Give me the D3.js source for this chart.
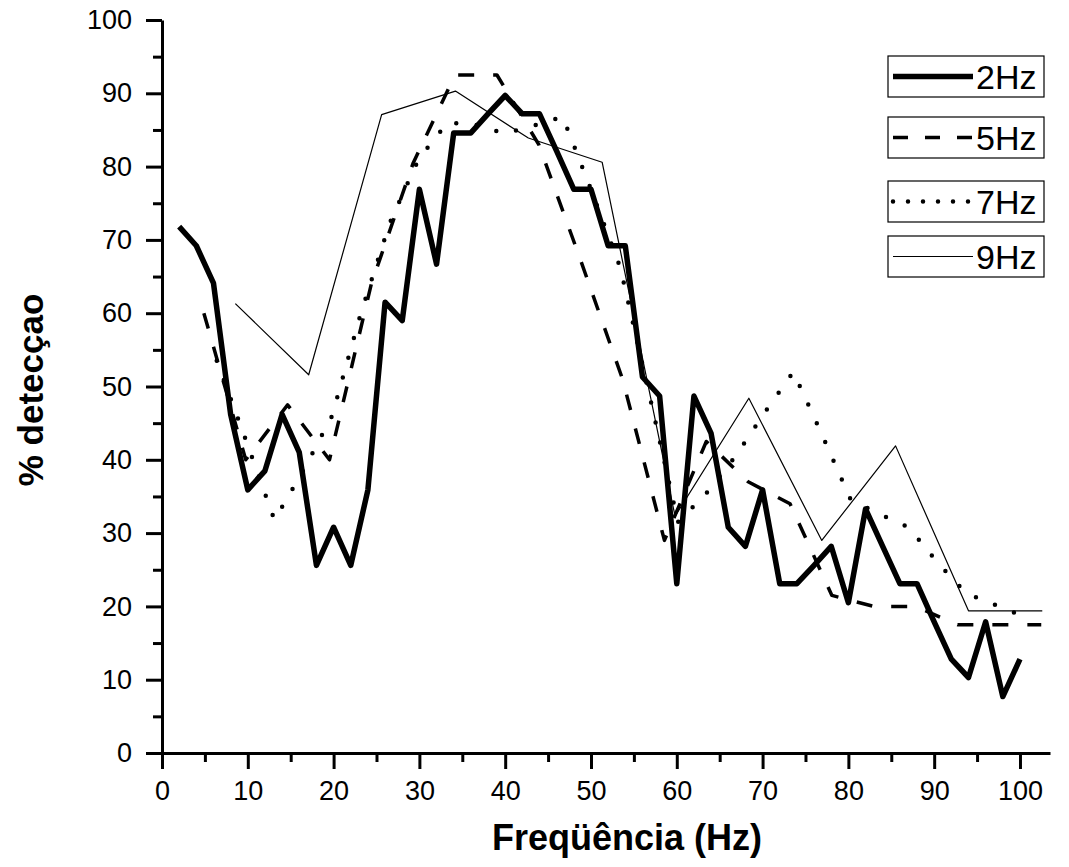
<!DOCTYPE html>
<html>
<head>
<meta charset="utf-8">
<title>% detecçao x Freqüência</title>
<script src="https://cdn.jsdelivr.net/npm/d3@7/dist/d3.min.js"></script>
<style>
  body { margin: 0; background: #fff; }
  text { font-family: Arial, "Liberation Sans", sans-serif; fill: #000; }
</style>
</head>
<body>
<script>

// data: frequency (Hz) and % detection per series
let freq2 = [2, 4, 6, 8, 10, 12, 14, 16, 18, 20, 22, 24, 26, 28, 30, 32, 34, 36, 38, 40,
             42, 44, 46, 48, 50, 52, 54, 56, 58, 60, 62, 64, 66, 68, 70, 72, 74, 76, 78, 80,
             82, 84, 86, 88, 90, 92, 94, 96, 98, 100];
let det2 = [71.8, 69.2, 64.1, 46.2, 35.9, 38.5, 46.2, 41.0, 25.6, 30.8, 25.6, 35.9, 61.5, 59.0, 76.9, 66.7, 84.6, 84.6, 87.2, 89.7,
            87.2, 87.2, 82.1, 76.9, 76.9, 69.2, 69.2, 51.3, 48.7, 23.1, 48.7, 43.6, 30.8, 28.2, 35.9, 23.1, 23.1, 25.6, 28.2, 20.5,
            33.3, 28.2, 23.1, 23.1, 17.9, 12.8, 10.3, 17.9, 7.7, 12.8];

let freq5 = [4.88, 9.76, 14.64, 19.52, 24.4, 29.28, 34.16, 39.04, 43.92, 48.8, 53.68,
             58.56, 63.44, 68.32, 73.2, 78.08, 82.96, 87.84, 92.72, 97.6, 102.48];
let det5 = [60, 40, 47.5, 40, 64, 80.5, 92.5, 92.5, 83, 67.2, 51,
            29, 42.5, 37, 34, 21.5, 20, 20, 17.5, 17.5, 17.5];

let freq7 = [6.38, 9.74, 13.1, 16.46, 19.82, 23.18, 26.54, 29.9, 33.26, 36.62, 39.98, 43.34, 46.7, 50.06, 53.42,
             56.78, 60.14, 63.5, 66.86, 70.22, 73.58, 76.94, 80.3, 83.66, 87.02, 90.38, 93.74, 97.1, 100.46];
let det7 = [53.5, 42.8, 31.8, 38.5, 46, 60, 72.3, 81, 86, 85.7, 84.5, 85.6, 86.8, 76.7, 66.2,
            49, 31.5, 35.5, 40.5, 46.4, 52, 43.4, 34.5, 32.6, 30.8, 26, 21.8, 20.2, 18.6];

let freq9 = [8.55, 17.1, 25.6, 34.2, 42.7, 51.3, 59.8, 68.4, 76.9, 85.5, 94.0, 102.6];
let det9 = [61.3, 51.6, 87.1, 90.3, 83.9, 80.6, 32.3, 48.4, 29.0, 41.9, 19.4, 19.4];

let names = ['2Hz', '5Hz', '7Hz', '9Hz'];

// ticks
let xMajor = [0, 10, 20, 30, 40, 50, 60, 70, 80, 90, 100];
let xMinor = [5, 15, 25, 35, 45, 55, 65, 75, 85, 95];
let yMajor = [0, 10, 20, 30, 40, 50, 60, 70, 80, 90, 100];
let yMinor = [5, 15, 25, 35, 45, 55, 65, 75, 85, 95];

window.onload = function() {
  draw();
};

function draw() {

  let w = 1069, h = 867;

  let svg = d3.select('body')
     .append('svg')
     .attr('width', w)
     .attr('height', h);

  // scales
  let x = d3.scaleLinear()
     .domain([0, 103.5])
     .range([162, 1050]);
  let y = d3.scaleLinear()
     .domain([0, 100])
     .range([753, 20]);

  // line styles, one per series
  let series = [
    {x: freq2, y: det2, width: 5.5, dash: null, cap: 'butt'},
    {x: freq5, y: det5, width: 3.5, dash: '16,19', cap: 'butt'},
    {x: freq7, y: det7, width: 4.5, dash: '0,20.5', cap: 'round'},
    {x: freq9, y: det9, width: 1.2, dash: null, cap: 'butt'}
  ];

  let line = d3.line()
     .x(function(d) { return x(d[0]); })
     .y(function(d) { return y(d[1]); });

  // draw thin ones first so the thick line sits on top
  let order = [3, 2, 1, 0];
  order.forEach(function(i) {
    let s = series[i];
    svg.append('path')
       .datum(d3.zip(s.x, s.y))
       .attr('d', line)
       .attr('fill', 'none')
       .attr('stroke', '#000')
       .attr('stroke-width', s.width)
       .attr('stroke-linejoin', 'round')
       .attr('stroke-linecap', s.cap)
       .attr('stroke-dasharray', s.dash);
  });

  // x axis
  svg.append('g')
     .attr('transform', 'translate(0,753)')
     .call(d3.axisBottom(x)
       .tickValues(xMajor)
       .tickSize(16)
       .tickSizeOuter(0)
       .tickPadding(12)
       .tickFormat(d3.format('d')));

  svg.append('g')
     .attr('transform', 'translate(0,753)')
     .call(d3.axisBottom(x)
       .tickValues(xMinor)
       .tickSize(9)
       .tickFormat(''))
     .select('.domain').remove();

  // y axis
  svg.append('g')
     .attr('transform', 'translate(162,0)')
     .call(d3.axisLeft(y)
       .tickValues(yMajor)
       .tickSize(16)
       .tickSizeOuter(0)
       .tickPadding(14)
       .tickFormat(d3.format('d')));

  svg.append('g')
     .attr('transform', 'translate(162,0)')
     .call(d3.axisLeft(y)
       .tickValues(yMinor)
       .tickSize(9)
       .tickFormat(''))
     .select('.domain').remove();

  svg.selectAll('.domain')
     .attr('stroke', '#000')
     .attr('stroke-width', 3);
  svg.selectAll('.tick line')
     .attr('stroke', '#000')
     .attr('stroke-width', 3);
  svg.selectAll('.tick text')
     .attr('font-family', 'Arial, "Liberation Sans", sans-serif')
     .attr('font-size', 27);

  // axis titles
  svg.append('text')
     .attr('x', 627)
     .attr('y', 850)
     .attr('text-anchor', 'middle')
     .attr('font-size', 36)
     .attr('font-weight', 'bold')
     .text('Freqüência (Hz)');

  svg.append('text')
     .attr('transform', 'translate(43,390)rotate(-90)')
     .attr('text-anchor', 'middle')
     .attr('font-size', 35)
     .attr('font-weight', 'bold')
     .text('% detecçao');

  legend(svg, series);
}

// one framed box per series, stacked on the top right
function legend(svg, series) {

  let boxTop = [56, 117, 181, 236];
  let boxLeft = 888, boxW = 156, boxH = 41;
  let dashLegend = [null, '15,17', '0,15', null];

  series.forEach(function(s, i) {
    let g = svg.append('g')
       .attr('transform', 'translate(' + boxLeft + ',' + boxTop[i] + ')');

    g.append('rect')
       .attr('width', boxW)
       .attr('height', boxH)
       .attr('fill', '#fff')
       .attr('stroke', '#000')
       .attr('stroke-width', 1.2);

    g.append('line')
       .attr('x1', 5)
       .attr('x2', 85)
       .attr('y1', boxH / 2)
       .attr('y2', boxH / 2)
       .attr('stroke', '#000')
       .attr('stroke-width', s.width)
       .attr('stroke-linecap', s.cap)
       .attr('stroke-dasharray', dashLegend[i]);

    g.append('text')
       .attr('x', 88)
       .attr('y', boxH / 2 + 12)
       .attr('font-size', 34)
       .text(names[i]);
  });
}

</script>
</body>
</html>
